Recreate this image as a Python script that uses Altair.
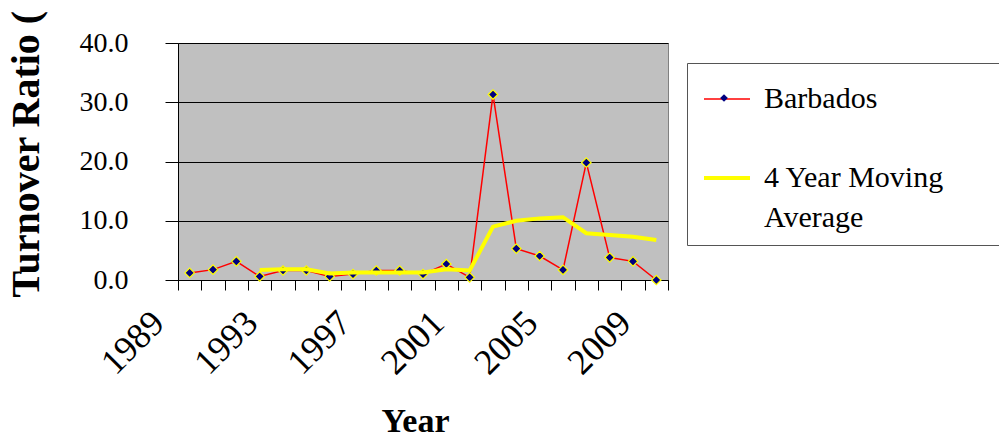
import altair as alt
import pandas as pd

years = list(range(1989, 2010))
barbados = [1.2, 1.75, 3.15, 0.6, 1.6, 1.6, 0.6, 1.0, 1.6, 1.6, 1.0, 2.7, 0.45, 31.3, 5.3, 4.05, 1.7, 19.8, 3.8, 3.15, 0.0]
ma_years = list(range(1992, 2010))
moving_avg = [1.7, 1.8, 1.8, 1.1, 1.25, 1.25, 1.25, 1.25, 1.8, 1.6, 9.0, 10.0, 10.4, 10.6, 7.9, 7.6, 7.3, 6.75]
series_names = ["Barbados", "4 Year Moving Average"]
y_ticks = [0, 10, 20, 30, 40]
x_ticks = [y - 0.5 for y in years] + [years[-1] + 0.5]

df_b = pd.DataFrame({"year": years, "value": barbados, "series": series_names[0], "series2": series_names[0]})
df_m = pd.DataFrame({"year": ma_years, "value": moving_avg, "series": series_names[1]})

FONT = "Liberation Serif"

x_enc = alt.X(
    "year:Q",
    scale=alt.Scale(domain=[1988.5, 2009.5], nice=False, zero=False),
    axis=alt.Axis(
        values=x_ticks,
        labelExpr="(floor(datum.value) + 1 - 1989) % 4 == 0 ? toString(floor(datum.value) + 1) : ''",
        labelAngle=-45, labelAlign="right", labelBaseline="top",
        labelOffset=-32, labelPadding=15, labelOverlap=False, labelFlush=False,
        labelFont=FONT, labelFontSize=36, labelColor="black",
        tickSize=10, tickColor="black", domainColor="black", grid=False,
        title="Year", titleFont=FONT, titleFontSize=34, titleFontWeight="bold",
        titleColor="black", titleX=237, titleY=151, titleBaseline="alphabetic",
        titleAlign="center",
    ),
)
y_enc = alt.Y(
    "value:Q",
    scale=alt.Scale(domain=[0, 40], nice=False),
    axis=alt.Axis(
        values=y_ticks, format=".1f",
        labelFont=FONT, labelFontSize=28, labelColor="black", labelPadding=37,
        tickSize=13, tickColor="black", domainColor="black",
        grid=True, gridColor="black", gridWidth=1,
        title="Turnover Ratio (", titleFont=FONT, titleFontSize=40,
        titleFontWeight="bold", titleColor="black", titleAngle=270,
        titleAlign="left", titleBaseline="alphabetic", titleX=-140, titleY=254,
    ),
)

legend_main = alt.Legend(
    orient="none", legendX=509, legendY=20, direction="vertical",
    title="\u00a0", titleOrient="right", titlePadding=95, titleFontSize=30,
    symbolType="stroke", symbolSize=2116, symbolOffset=3, labelFont=FONT, labelFontSize=30,
    labelColor="black", labelLimit=600, labelOffset=12, padding=12,
    rowPadding=39, strokeColor="#555555", fillColor="white",
    labelExpr="datum.label == '4 Year Moving Average' ? ['4 Year Moving', 'Average'] : datum.label",
)
color_enc = alt.Color(
    "series:N",
    scale=alt.Scale(domain=series_names, range=["#FF0000", "#FFFF00"]),
    legend=legend_main,
)
sw_enc = alt.StrokeWidth(
    "series:N", scale=alt.Scale(domain=series_names, range=[1.5, 4]), legend=legend_main
)

line_b = alt.Chart(df_b).mark_line().encode(x=x_enc, y=y_enc, color=color_enc, strokeWidth=sw_enc)
pts = alt.Chart(df_b).mark_point(
    filled=True, fill="#000080", stroke="#FFFF00", strokeWidth=1.2, size=90, opacity=1
).encode(
    x=x_enc, y=y_enc,
    shape=alt.Shape(
        "series2:N",
        scale=alt.Scale(domain=[series_names[0]], range=["diamond"]),
        legend=alt.Legend(
            orient="none", legendX=541.5, legendY=50.5, title=None, padding=0,
            symbolSize=60, symbolFillColor="#000080", symbolStrokeColor="#FFFF00",
            symbolStrokeWidth=1, labelOpacity=0, labelFontSize=1,
        ),
    ),
)
line_m = alt.Chart(df_m).mark_line().encode(x=x_enc, y=y_enc, color=color_enc, strokeWidth=sw_enc)

chart = alt.layer(line_b, pts, line_m).properties(
    width=490, height=237,
    autosize=alt.AutoSizeParams(type="none"),
    padding={"left": 170, "top": 35, "right": 331, "bottom": 165},
).configure(
    style={"guide-label": {"lineHeight": 40}}
).configure_view(fill="#C0C0C0", stroke="#808080", strokeWidth=1)

chart.save("out.html", embed_options={"renderer": "svg", "actions": False})
